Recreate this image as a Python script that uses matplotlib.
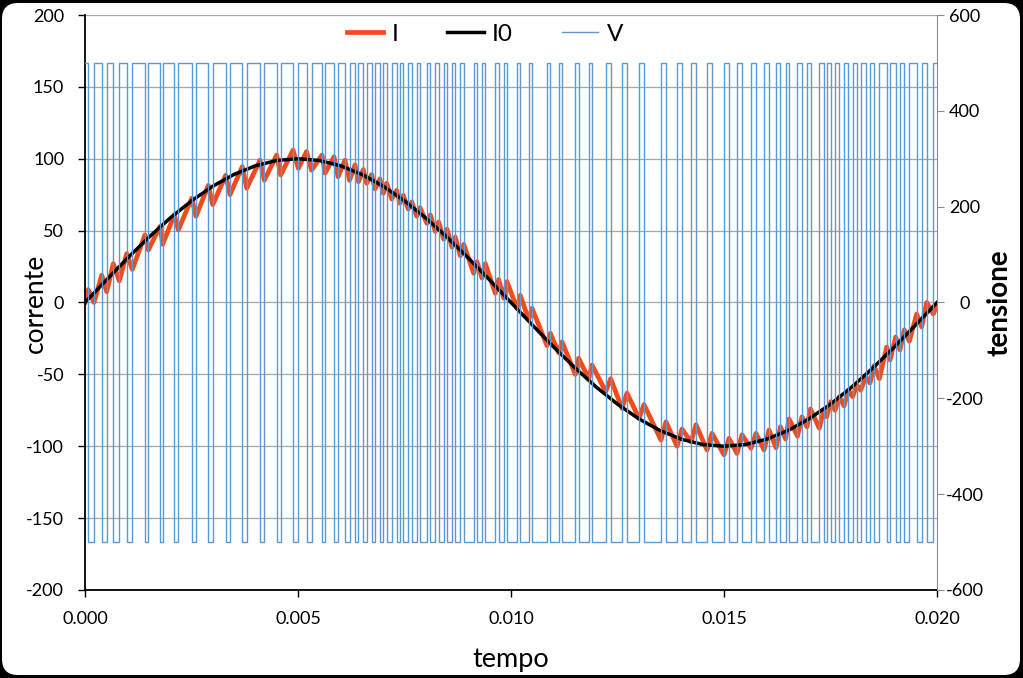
import matplotlib
matplotlib.use('Agg')
import matplotlib.pyplot as plt
from matplotlib.patches import FancyBboxPatch
from matplotlib.transforms import IdentityTransform
import numpy as np

plt.rcParams['font.family'] = ['Lato', 'DejaVu Sans']
plt.rcParams['axes.unicode_minus'] = False

# switching instants of the inverter voltage V (s): low->high and high->low
t_up = [0.0, 0.000211, 0.000509, 0.000805, 0.00111, 0.001486, 0.001824, 0.00219,
        0.002606, 0.002998, 0.003404, 0.003796, 0.004209, 0.004594, 0.005007,
        0.005317, 0.005634, 0.005939, 0.006209, 0.00642, 0.006613, 0.006808,
        0.007002, 0.0072, 0.007394, 0.007589, 0.007786, 0.008028, 0.008223,
        0.00842, 0.008615, 0.00881, 0.009124, 0.009319, 0.009632, 0.009829,
        0.010141, 0.010415, 0.010845, 0.01112, 0.011509, 0.011824, 0.012223,
        0.012606, 0.013005, 0.013521, 0.013897, 0.014225, 0.014601, 0.015,
        0.015305, 0.015634, 0.015939, 0.016221, 0.016444, 0.016725, 0.016948,
        0.017237, 0.017411, 0.017606, 0.017817, 0.018021, 0.018209, 0.018427,
        0.018646, 0.018897, 0.019131, 0.01935, 0.019641, 0.019913]
t_down = [0.000077, 0.000392, 0.000664, 0.000979, 0.001408, 0.001761, 0.002096,
          0.002505, 0.002894, 0.003303, 0.003692, 0.004108, 0.0045, 0.004883,
          0.0052, 0.005563, 0.005845, 0.006103, 0.006338, 0.006533, 0.00673,
          0.006925, 0.007082, 0.007317, 0.007472, 0.007669, 0.007864, 0.008106,
          0.008303, 0.008498, 0.008692, 0.00889, 0.009202, 0.009397, 0.009711,
          0.009906, 0.010218, 0.010493, 0.010923, 0.011197, 0.011589, 0.011901,
          0.01234, 0.012723, 0.013122, 0.013638, 0.014014, 0.014343, 0.014718,
          0.015117, 0.015423, 0.015751, 0.016056, 0.016326, 0.016526, 0.016831,
          0.017031, 0.017343, 0.017505, 0.017707, 0.017918, 0.018115, 0.018326,
          0.018521, 0.018819, 0.019031, 0.019232, 0.019523, 0.019758]
v_high = 500
v_low = -500
t_end = 0.02

# current I at the switching instants (valleys at t_up, crests at t_down)
i_at_up = [0, 0, 7.5, 15, 23, 36.5, 40.5, 50.5, 60, 68, 75, 79.5, 85, 88.7, 93.3,
           92, 90, 87.5, 85, 84, 83, 79, 76, 72, 69, 65, 60, 55, 49.5, 44, 38.5,
           32.5, 20.3, 17, 6.4, 3, -4, -12, -30, -35, -50, -53, -62, -73.6,
           -80.6, -95.7, -100, -97, -102.6, -106, -105, -101.4, -102.6, -101,
           -95, -93, -86.5, -87.5, -79.5, -75, -72, -65.5, -61, -56, -53, -40,
           -33, -27, -17, -8]
i_at_down = [9, 19, 27, 34, 47, 53, 61, 72.5, 81.5, 88.5, 94.5, 99, 102.6, 106,
             105, 102.6, 101.4, 99, 95.7, 92.5, 89, 86, 83, 78, 74.5, 70, 66,
             61, 56, 51, 45.5, 40.5, 28.4, 27, 16, 14.5, 5, -4, -21.4, -27.3,
             -38.8, -43.5, -53, -63, -71, -83, -88, -85, -91, -94.5, -92, -91,
             -88.7, -86.5, -81, -79.5, -74, -75, -69, -65.5, -61, -57.5, -51.5,
             -44, -31, -24, -19, -8, 0]
i_end = -2

# reference current I0
t_ref = np.linspace(0, 0.02, 41)
i0_vals = [0, 15.6, 30.9, 45.4, 58.8, 70.7, 80.9, 89.1, 95.1, 98.8, 100,
           98.8, 95.1, 89.1, 80.9, 70.7, 58.8, 45.4, 30.9, 15.6, 0,
           -15.6, -30.9, -45.4, -58.8, -70.7, -80.9, -89.1, -95.1, -98.8, -100,
           -98.8, -95.1, -89.1, -80.9, -70.7, -58.8, -45.4, -30.9, -15.6, 0]

# merge the switching events in time order
ev_t = np.array(t_up + t_down)
ev_v = np.array([v_high] * len(t_up) + [v_low] * len(t_down))
ev_i = np.array(i_at_up + i_at_down)
order = np.argsort(ev_t)
t_v = np.append(ev_t[order], t_end)
v_vals = np.append(ev_v[order], ev_v[order][-1])
i_vals = np.append(ev_i[order], i_end)

W, H = 1023, 678
fig = plt.figure(figsize=(W / 100, H / 100), dpi=100, facecolor='black')
card = FancyBboxPatch((2, 3), W - 5, H - 6, boxstyle='round,pad=0,rounding_size=16',
                      transform=IdentityTransform(), facecolor='white', edgecolor='none',
                      zorder=-10)
fig.add_artist(card)

ax = fig.add_axes([85 / W, 1 - 590 / H, 852 / W, 575 / H])
ax.set_facecolor('white')
ax.set_xlim(0, 0.02)
ax.set_ylim(-200, 200)
ax.set_yticks(np.arange(-200, 201, 50))
ax.set_xticks([0, 0.005, 0.01, 0.015, 0.02])
ax.set_xticklabels(['0.000', '0.005', '0.010', '0.015', '0.020'])
ax.grid(axis='y', color='#A6A6A6', lw=0.9)
ax.set_axisbelow(True)
for s in ['top', 'right']:
    ax.spines[s].set_visible(False)
for s in ['left', 'bottom']:
    ax.spines[s].set_color('black')
    ax.spines[s].set_linewidth(1.3)
ax.tick_params(axis='both', direction='out', length=5, width=1, color='black',
               labelsize=13, pad=10)

l_i, = ax.plot(t_v, i_vals, color='#F24B1B', lw=3.4, solid_joinstyle='round', label='I')
l_i0, = ax.plot(t_ref, i0_vals, color='black', lw=2.5, label='I0')

ax2 = ax.twinx()
ax2.set_ylim(-600, 600)
ax2.set_yticks(np.arange(-600, 601, 200))
for s in ['top', 'left', 'bottom']:
    ax2.spines[s].set_visible(False)
ax2.spines['right'].set_color('#8C8C8C')
ax2.tick_params(axis='y', direction='out', length=5, color='#8C8C8C',
                labelsize=13, pad=15)
for lbl in ax2.get_yticklabels():
    lbl.set_horizontalalignment('center')
l_v, = ax2.plot(t_v, v_vals, color='#5B9BD5', lw=1.0, drawstyle='steps-post', label='V')

fig.text(35 / W, 1 - 303 / H, 'corrente', rotation=90, ha='center', va='center', fontsize=19)
fig.text(999 / W, 1 - 303 / H, 'tensione', rotation=90, ha='center', va='center',
         fontsize=20, fontweight='bold')
fig.text(511 / W, 1 - 659 / H, 'tempo', ha='center', va='center', fontsize=19.5)

fig.legend(handles=[l_i, l_i0, l_v], loc='center', ncol=3, frameon=False,
           bbox_to_anchor=(485 / W, 1 - 34 / H), fontsize=17.5,
           handlelength=1.5, handletextpad=0.35, columnspacing=2.0)

fig.savefig('out.png', dpi=100, facecolor=fig.get_facecolor())
